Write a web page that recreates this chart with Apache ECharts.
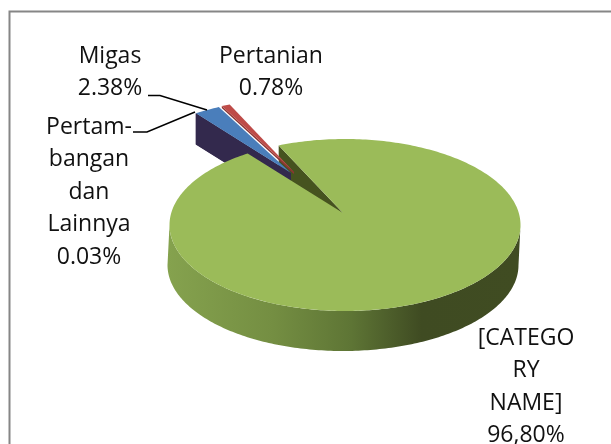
<!DOCTYPE html>
<html>
<head>
<meta charset="utf-8">
<style>html,body{margin:0;padding:0;background:#fff}#c{width:611px;height:444px}</style>
<script src="https://cdn.jsdelivr.net/npm/echarts@6/dist/echarts.min.js"></script>
</head>
<body>
<div id="c"></div>
<script>
const categories = ['[CATEGORY NAME]', 'Pertambangan dan Lainnya', 'Migas', 'Pertanian'];
const sliceValues = [96.80, 0.03, 2.38, 0.78];
const labelLines = [
  ['Migas', '2.38%'],
  ['Pertanian', '0.78%'],
  ['Pertam-', 'bangan', 'dan', 'Lainnya', '0.03%'],
  ['[CATEGO', 'RY', 'NAME]', '96,80%']
];

const FONT = '23px "Open Sans", Lato, sans-serif';
const LINE_H = 32.6;
const labelAnchors = [[110, 56], [271, 56], [89, 127], [526, 338]];
const leaders = [
  [[148, 95.5], [160, 95.5], [207, 110]],
  [[133, 132], [147, 132], [195, 112]]
];
const geo = {
  apex: [343, 213], ell: [345, 225], rx: 175.5, ry: 86,
  start: 247.8, thickFront: 40
};
const explode = [[0, 0], [-52, -40], [-52, -40], [-49, -41]];
const wallDrop = [31, 31, 31, 2];
const topColors = ['#9BBB59', '#33294D', '#4A7EBB', '#BE4B48'];
const wallColors = ['#46531F', '#33294D', '#33294D', '#8E3432'];
const wallOrder = [2, 6, 7, 5];

const total = sliceValues.reduce((a, b) => a + b, 0);
const rad = d => d * Math.PI / 180;
function rim(deg, off) {
  const a = rad(deg);
  return [geo.ell[0] + geo.rx * Math.cos(a) + off[0],
          geo.ell[1] + geo.ry * Math.sin(a) + off[1]];
}
function arc(from, to, off) {
  const pts = [], n = Math.max(2, Math.ceil(Math.abs(to - from)));
  for (let i = 0; i <= n; i++) pts.push(rim(from + (to - from) * i / n, off));
  return pts;
}

function renderSlice(params, api) {
  const idx = params.dataIndex;
  let before = 0;
  for (let i = 0; i < idx; i++) before += sliceValues[i];
  const span = api.value(0) / total * 360;
  const a0 = geo.start + before / total * 360;
  const a1 = a0 + span;
  const off = explode[idx];
  const apex = [geo.apex[0] + off[0], geo.apex[1] + off[1]];
  const children = [];
  const r = rim(a0, off);
  const drop = wallDrop[idx];
  const wall = {
    type: 'polygon', z2: wallOrder[idx],
    shape: { points: [r, apex, [apex[0], apex[1] + drop], [r[0], r[1] + drop]] },
    style: { fill: wallColors[idx] }
  };
  if (idx === 0) {
    children.push({
      type: 'polygon', z2: 1,
      shape: { points: arc(0, 180, [0, 0]).concat(arc(180, 0, [-2, geo.thickFront])) },
      style: { fill: { type: 'linear', x: 0, y: 0, x2: 1, y2: 0, colorStops: [
        { offset: 0, color: '#85A24E' }, { offset: 0.3, color: '#748E42' },
        { offset: 0.52, color: '#5E7535' }, { offset: 0.72, color: '#3F4B22' },
        { offset: 1, color: '#404C22' }] } }
    });
  }
  children.push(wall);
  children.push({
    type: 'polygon', z2: idx === 0 ? 10 : 12 + idx,
    shape: { points: [apex].concat(arc(a0, a1, off)) },
    style: { fill: topColors[idx] }
  });
  return { type: 'group', children };
}

const graphics = [{
  type: 'rect', z: 0,
  shape: { x: 9.5, y: 11.5, width: 700, height: 500 },
  style: { fill: '#fff', stroke: '#868686', lineWidth: 2 }
}];
labelLines.forEach((lines, i) => {
  lines.forEach((t, j) => graphics.push({
    type: 'text', z: 5,
    style: {
      text: t, x: labelAnchors[i][0], y: labelAnchors[i][1] + j * LINE_H,
      font: FONT, fill: '#111', textAlign: 'center', textVerticalAlign: 'middle'
    }
  }));
});
leaders.forEach(pts => graphics.push({
  type: 'polyline', z: 5,
  shape: { points: pts },
  style: { stroke: '#000', lineWidth: 1.5, fill: 'none' }
}));

const chart = echarts.init(document.getElementById('c'), null, { renderer: 'canvas' });
chart.setOption({
  animation: false,
  backgroundColor: '#fff',
  graphic: graphics,
  series: [{
    type: 'custom',
    coordinateSystem: 'none',
    z: 3,
    renderItem: renderSlice,
    data: sliceValues.map((v, i) => ({ name: categories[i], value: [v] }))
  }]
});
</script>
</body>
</html>
